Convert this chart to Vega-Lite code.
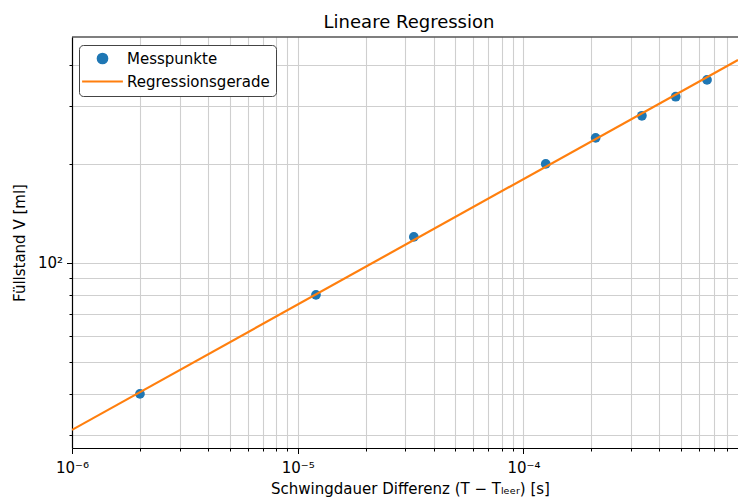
{
  "$schema": "https://vega.github.io/schema/vega-lite/v6.json",
  "width": 666,
  "height": 411,
  "autosize": "none",
  "padding": {"left": 72, "top": 37, "right": 0, "bottom": 49},
  "background": "white",
  "title": {"text": "Lineare Regression", "fontSize": 18, "font": "DejaVu Sans", "fontWeight": "normal", "color": "black", "offset": 4, "dx": 4},
  "config": {
    "view": {"stroke": null},
    "font": "DejaVu Sans",
    "axis": {
      "labelFont": "DejaVu Sans", "labelFontSize": 15, "labelColor": "black",
      "titleFont": "DejaVu Sans", "titleFontSize": 15, "titleFontWeight": "normal", "titleColor": "black",
      "domainColor": "black", "domainWidth": 1.2, "tickColor": "black", "tickWidth": 1,
      "gridColor": "#cfcfcf", "gridWidth": 1.1, "labelOverlap": false, "labelFlush": false
    }
  },
  "layer": [
    {
      "data": {"values": [
        {"t": 2.0e-6, "v": 40, "series": "Messpunkte"},
        {"t": 1.205e-5, "v": 80, "series": "Messpunkte"},
        {"t": 3.27e-5, "v": 120, "series": "Messpunkte"},
        {"t": 1.256e-4, "v": 200, "series": "Messpunkte"},
        {"t": 2.09e-4, "v": 240, "series": "Messpunkte"},
        {"t": 3.35e-4, "v": 280, "series": "Messpunkte"},
        {"t": 4.73e-4, "v": 320, "series": "Messpunkte"},
        {"t": 6.51e-4, "v": 360, "series": "Messpunkte"}
      ]},
      "mark": {"type": "point", "filled": true, "size": 95, "opacity": 1},
      "encoding": {
        "x": {"field": "t", "type": "quantitative",
          "scale": {"type": "log", "domain": [1e-6, 8.93e-4], "nice": false},
          "title": "Schwingdauer Differenz (T − Tₗₑₑᵣ) [s]",
          "axis": {
            "values": [1e-6,2e-6,3e-6,4e-6,5e-6,6e-6,7e-6,8e-6,9e-6,1e-5,2e-5,3e-5,4e-5,5e-5,6e-5,7e-5,8e-5,9e-5,1e-4,2e-4,3e-4,4e-4,5e-4,6e-4,7e-4,8e-4],
            "labelExpr": "datum.value < 1.5e-6 ? '10⁻⁶' : (abs(datum.value - 1e-5) < 1e-8 ? '10⁻⁵' : (abs(datum.value - 1e-4) < 1e-7 ? '10⁻⁴' : ''))",
            "tickSize": {"condition": {"test": "abs(log(datum.value)/LN10 - round(log(datum.value)/LN10)) < 0.001", "value": 5.5}, "value": 3},
            "labelPadding": 7,
            "titlePadding": 6,
            "titleX": 338
          }
        },
        "y": {"field": "v", "type": "quantitative",
          "scale": {"type": "log", "domain": [27.4, 486], "nice": false},
          "title": "Füllstand V [ml]",
          "axis": {
            "values": [30,40,50,60,70,80,90,100,200,300,400],
            "labelExpr": "datum.value == 100 ? '10²' : ''",
            "tickSize": {"condition": {"test": "datum.value == 100", "value": 5.5}, "value": 3},
            "labelPadding": 4,
            "titlePadding": 10
          }
        },
        "color": {"field": "series", "type": "nominal",
          "scale": {"domain": ["Messpunkte", "Regressionsgerade"], "range": ["#1f77b4", "#ff7f0e"]},
          "legend": {
            "title": null, "orient": "none", "legendX": 7, "legendY": 8,
            "fillColor": "white", "strokeColor": "#444", "cornerRadius": 4, "padding": 6,
            "labelFont": "DejaVu Sans", "labelFontSize": 15, "labelColor": "black", "labelLimit": 300,
            "symbolSize": 64, "symbolOffset": 10, "labelOffset": 17, "rowPadding": 6,
            "encoding": {"symbols": {
              "shape": {"condition": {"test": "datum.value === 'Messpunkte'", "value": "circle"}, "value": "M-4.3,0H4.3"},
              "fill": {"condition": {"test": "datum.value === 'Messpunkte'", "value": "#1f77b4"}, "value": "transparent"},
              "stroke": {"condition": {"test": "datum.value === 'Messpunkte'", "value": "transparent"}, "value": "#ff7f0e"},
              "strokeWidth": {"value": 2.2},
              "opacity": {"value": 1},
              "size": {"value": 90}
            }}
          }
        }
      }
    },
    {
      "data": {"values": [
        {"t": 1e-6, "v": 31.1, "series": "Regressionsgerade"},
        {"t": 8.93e-4, "v": 414, "series": "Regressionsgerade"}
      ]},
      "mark": {"type": "line", "strokeWidth": 2.2, "clip": true},
      "encoding": {
        "x": {"field": "t", "type": "quantitative"},
        "y": {"field": "v", "type": "quantitative"},
        "color": {"field": "series", "type": "nominal"}
      }
    },
    {
      "data": {"values": [{"v": 486}]},
      "mark": {"type": "rule", "color": "black", "strokeWidth": 1.2},
      "encoding": {"y": {"field": "v", "type": "quantitative"}}
    }
  ]
}
